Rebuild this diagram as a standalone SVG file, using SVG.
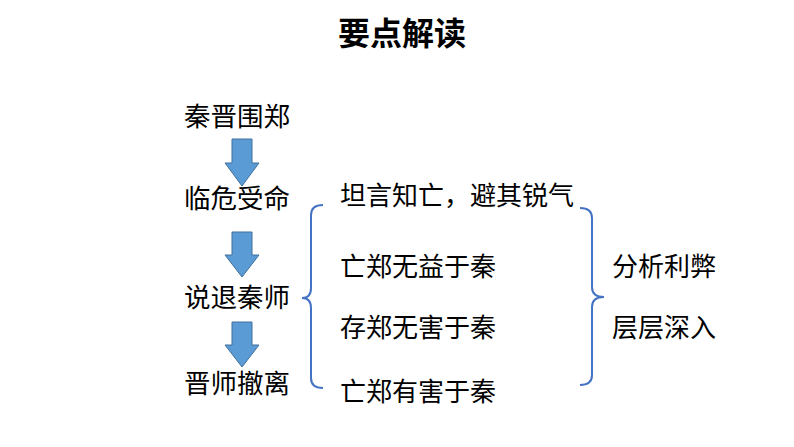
<svg xmlns="http://www.w3.org/2000/svg" width="794" height="447" viewBox="0 0 794 447">
<style>
text{font-family:"Noto Sans CJK SC",sans-serif;fill:#000}
.t{font-size:26.5px}
.m{font-size:26px}
.a{fill:#5b9bd5;stroke:#41719c;stroke-width:1}
.b{fill:none;stroke:#4472c4;stroke-width:2}
</style>
<rect width="794" height="447" fill="#fff"/>
<text x="402" y="45" font-size="32" font-weight="bold" text-anchor="middle">要点解读</text>
<g id="n1"><text class="t" x="184" y="126">秦晋围郑</text></g>
<g id="n2"><text class="t" x="184" y="208">临危受命</text></g>
<g id="n3"><text class="t" x="184" y="307">说退秦师</text></g>
<g id="n4"><text class="t" x="184" y="393">晋师撤离</text></g>
<g id="m1"><text class="m" x="340" y="205">坦言知亡，避其锐气</text></g>
<g id="m2"><text class="m" x="340" y="276">亡郑无益于秦</text></g>
<g id="m3"><text class="m" x="340" y="337">存郑无害于秦</text></g>
<g id="m4"><text class="m" x="340" y="401">亡郑有害于秦</text></g>
<g id="r1"><text class="m" x="612" y="276">分析利弊</text></g>
<g id="r2"><text class="m" x="612" y="337">层层深入</text></g>
<g id="connectors">
<path class="a" d="M232,139 H252 V163 H259 L242,186 L225,163 H232 Z"/>
<path class="a" d="M232,232 H252 V255 H259 L242,277 L225,255 H232 Z"/>
<path class="a" d="M232,322 H252 V345 H259 L242,367 L225,345 H232 Z"/>
<path class="b" d="M323,205 Q311,205 311,215 V288 Q311,298 302,298 Q311,298 311,308 V378 Q311,388 323,388"/>
<path class="b" d="M580,208 Q592,208 592,218 V287 Q592,297 604,297 Q592,297 592,307 V375 Q592,385 580,385"/>
</g>
</svg>
